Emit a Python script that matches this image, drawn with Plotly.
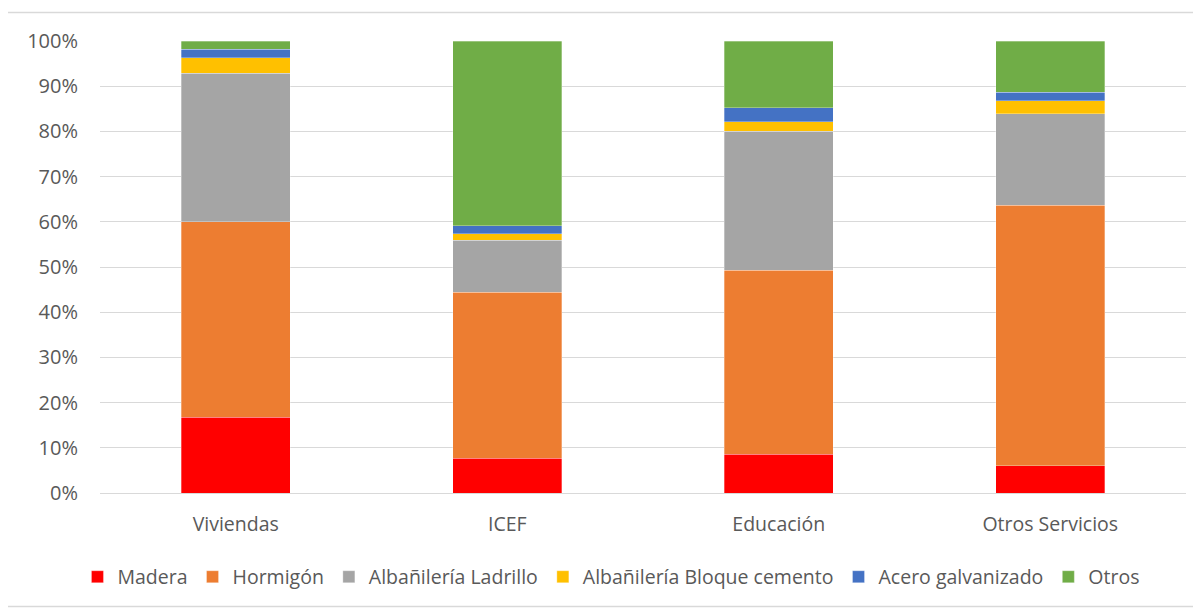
import plotly.graph_objects as go

categories = ["Viviendas", "ICEF", "Educación", "Otros Servicios"]
series_names = ["Madera", "Hormigón", "Albañilería Ladrillo", "Albañilería Bloque cemento", "Acero galvanizado", "Otros"]
madera = [16.8, 7.7, 8.6, 6.0]
hormigon = [43.2, 36.7, 40.7, 57.7]
ladrillo = [32.9, 11.5, 30.7, 20.2]
bloque = [3.4, 1.5, 2.1, 2.9]
acero = [1.9, 1.7, 3.1, 1.9]
otros = [1.8, 40.9, 14.8, 11.3]
colors = ["#FF0000", "#ED7D31", "#A5A5A5", "#FFC000", "#4472C4", "#70AD47"]
tick_vals = [0, 10, 20, 30, 40, 50, 60, 70, 80, 90, 100]
tick_text = [f"{v}%" for v in tick_vals]

series = [madera, hormigon, ladrillo, bloque, acero, otros]

FONT = "Open Sans, Liberation Sans, Arial, sans-serif"

fig = go.Figure()
for name, vals, c in zip(series_names, series, colors):
    fig.add_trace(go.Bar(
        x=categories, y=vals, name=name,
        marker=dict(color=c, line=dict(color="rgba(255,255,255,0.6)", width=0.5)),
        width=0.4,
    ))

# page body has an 8px margin: shift figure geometry accordingly
fig.update_layout(
    barmode="stack",
    width=1193, height=601,
    margin=dict(l=92, r=15, t=33, b=116),
    paper_bgcolor="white", plot_bgcolor="white",
    font=dict(family=FONT, size=19, color="#595959"),
    showlegend=True,
    legend=dict(orientation="h", x=0.4705, xanchor="center", y=-0.186, yanchor="middle",
                font=dict(family=FONT, size=19.5, color="#595959"), itemwidth=30,
                traceorder="normal"),
    xaxis=dict(showgrid=False, showline=True, linecolor="#D9D9D9", linewidth=1,
               ticks="", ticklabelstandoff=14,
               tickfont=dict(family=FONT, size=19.5, color="#595959")),
    yaxis=dict(range=[0, 100], tickvals=tick_vals, ticktext=tick_text,
               showgrid=True, gridcolor="#D9D9D9", gridwidth=1, zeroline=False,
               ticks="", ticklabelstandoff=21,
               tickfont=dict(family=FONT, size=20, color="#595959")),
    shapes=[dict(type="rect", xref="paper", yref="paper",
                 x0=-0.0861, x1=1.0115, y0=-0.251, y1=1.063,
                 line=dict(color="#D9D9D9", width=1.5), fillcolor="rgba(0,0,0,0)",
                 layer="above")],
)

fig.write_html("out.html")
